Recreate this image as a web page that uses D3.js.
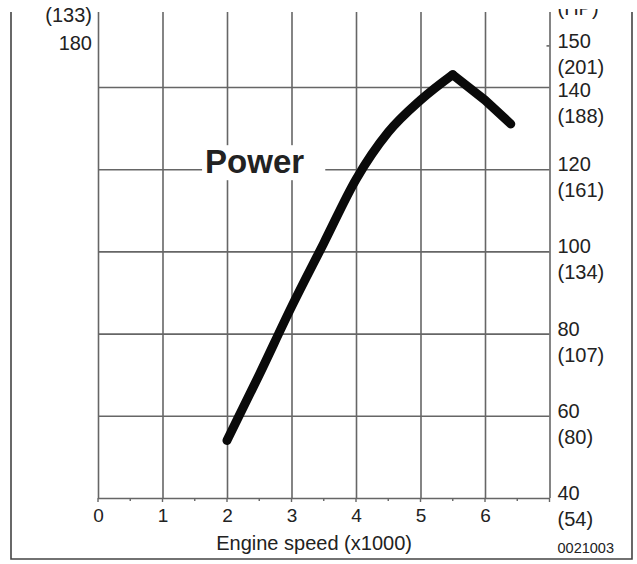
<!DOCTYPE html>
<html>
<head>
<meta charset="utf-8">
<script src="https://cdn.jsdelivr.net/npm/d3@7"></script>
<style>
  body { margin: 0; background: #fff; }
  text { font-family: "Liberation Sans", Arial, Helvetica, sans-serif; fill: #222; }
  .grid line { stroke: #666; stroke-width: 1.6; }
  .grid path { display: none; }
</style>
</head>
<body>
<svg width="637" height="564"></svg>
<script>
// engine speed axis (x1000 rpm)
var speedTicks = [0, 1, 2, 3, 4, 5, 6, 7];
var speedMinor = [0.5, 1.5, 2.5, 3.5, 4.5, 5.5, 6.5];

// right axis: kW with (HP) below
var kwGrid = [40, 60, 80, 100, 120, 140];
var kwLabels = [40, 60, 80, 100, 120, 140, 150];
var hpLabels = ["(54)", "(80)", "(107)", "(134)", "(161)", "(188)", "(201)"];

// left axis: torque N·m with (lbf·ft) above, mostly cropped
var torqueLabels = [180];
var torqueLbLabels = ["(133)"];

// power curve, peak at 5500 rpm
var rpm = [2, 2.5, 3, 3.5, 4, 4.5, 5, 5.5, 6, 6.4];
var powerKw = [54, 70, 86.5, 102, 117.5, 129, 136.8, 143, 136.8, 131];
var peakIndex = 7;

var svg = d3.select("svg"),
    plotTop = 12,
    frame = {left: 11, right: 632, bottom: 559};

var x = d3.scaleLinear()
    .domain([0, 7])
    .range([98, 549.5]);

var y = d3.scaleLinear()
    .domain([40, 140])
    .range([498, 87]);

// torque axis shares the page with kW, 180 N·m sits level with 150 kW
var yTorque = d3.scaleLinear()
    .domain([70, 180])
    .range([y(40), y(150)]);

svg.append("rect")
    .attr("width", 637)
    .attr("height", 564)
    .attr("fill", "#fff");

// outer frame (top edge is cropped away)
svg.append("path")
    .attr("d", "M" + frame.left + "," + plotTop + "V" + frame.bottom + "H" + frame.right + "V" + plotTop)
    .attr("fill", "none")
    .attr("stroke", "#444")
    .attr("stroke-width", 1.6);

// vertical grid + x labels
svg.append("g")
    .attr("class", "grid")
    .attr("transform", "translate(0," + y(40) + ")")
    .call(d3.axisBottom(x)
        .tickValues(speedTicks)
        .tickSize(-(y(40) - plotTop))
        .tickPadding(11)
        .tickFormat(function(d) { return d < 7 ? d : ""; }))
  .selectAll("text")
    .attr("font-size", 19)
    .attr("fill", "#222");

// horizontal grid
svg.append("g")
    .attr("class", "grid")
    .attr("transform", "translate(" + x(7) + ",0)")
    .call(d3.axisRight(y)
        .tickValues(kwGrid)
        .tickSize(-(x(7) - x(0)))
        .tickFormat(""));

// small ticks under the x axis
svg.append("g")
  .selectAll("line")
    .data(speedTicks.concat(speedMinor))
  .enter().append("line")
    .attr("x1", function(d) { return x(d); })
    .attr("x2", function(d) { return x(d); })
    .attr("y1", y(40))
    .attr("y2", function(d) { return y(40) + (d % 1 ? 3 : 4); })
    .attr("stroke", "#666")
    .attr("stroke-width", 1.4);

// 150 kW tick on the right axis
svg.append("line")
    .attr("x1", x(7) - 3)
    .attr("x2", x(7))
    .attr("y1", y(150))
    .attr("y2", y(150))
    .attr("stroke", "#666")
    .attr("stroke-width", 1.6);

// right labels
var right = svg.append("g")
  .selectAll("g")
    .data(kwLabels)
  .enter().append("g")
    .attr("transform", function(d) {
      var shift = d === 140 ? 10 : 2;
      return "translate(" + (x(7) + 8) + "," + (y(d) + shift) + ")";
    });

right.append("text")
    .attr("font-size", 20)
    .text(function(d) { return d; });

right.append("text")
    .attr("font-size", 20)
    .attr("y", 26)
    .text(function(d, i) { return hpLabels[i]; });

// cropped unit label at the top right
var clip = svg.append("clipPath").attr("id", "topclip");
clip.append("rect")
    .attr("x", 0)
    .attr("y", 9)
    .attr("width", 637)
    .attr("height", 564);

svg.append("text")
    .attr("clip-path", "url(#topclip)")
    .attr("x", x(7) + 8)
    .attr("y", 15)
    .attr("font-size", 20)
    .text("(HP)");

// left labels
var left = svg.append("g")
  .selectAll("g")
    .data(torqueLabels)
  .enter().append("g")
    .attr("transform", function(d) { return "translate(" + (x(0) - 6) + "," + (yTorque(d) + 4) + ")"; });

left.append("text")
    .attr("font-size", 20)
    .attr("text-anchor", "end")
    .text(function(d) { return d; });

left.append("text")
    .attr("font-size", 20)
    .attr("text-anchor", "end")
    .attr("y", -28)
    .text(function(d, i) { return torqueLbLabels[i]; });

// axis title and figure code
svg.append("text")
    .attr("x", x(3.35))
    .attr("y", 550)
    .attr("font-size", 20)
    .attr("text-anchor", "middle")
    .text("Engine speed (x1000)");

svg.append("text")
    .attr("x", x(7) + 8)
    .attr("y", 553)
    .attr("font-size", 14.5)
    .text("0021003");

// "Power" label on a white patch over the grid
var labelG = svg.append("g");
var patch = labelG.append("rect").attr("fill", "#fff");
var power = labelG.append("text")
    .attr("x", x(1.66))
    .attr("y", y(120) + 4)
    .attr("font-size", 33)
    .attr("font-weight", "bold")
    .attr("fill", "#111")
    .text("Power");

var bb = power.node().getBBox();
patch
    .attr("x", bb.x - 3)
    .attr("y", bb.y + 2)
    .attr("width", bb.width + 24)
    .attr("height", bb.height - 2);

// power curve: smooth rise, straight fall after the peak
var pts = rpm.map(function(r, i) { return [r, powerKw[i]]; });

var line = d3.line()
    .x(function(d) { return x(d[0]); })
    .y(function(d) { return y(d[1]); });

svg.append("g")
    .attr("fill", "none")
    .attr("stroke", "#0a0a0a")
    .attr("stroke-width", 9)
    .attr("stroke-linecap", "round")
    .attr("stroke-linejoin", "round")
  .selectAll("path")
    .data([
      {p: pts.slice(0, peakIndex + 1), curve: d3.curveMonotoneX},
      {p: pts.slice(peakIndex), curve: d3.curveLinear}
    ])
  .enter().append("path")
    .attr("d", function(d) { return line.curve(d.curve)(d.p); });
</script>
</body>
</html>
